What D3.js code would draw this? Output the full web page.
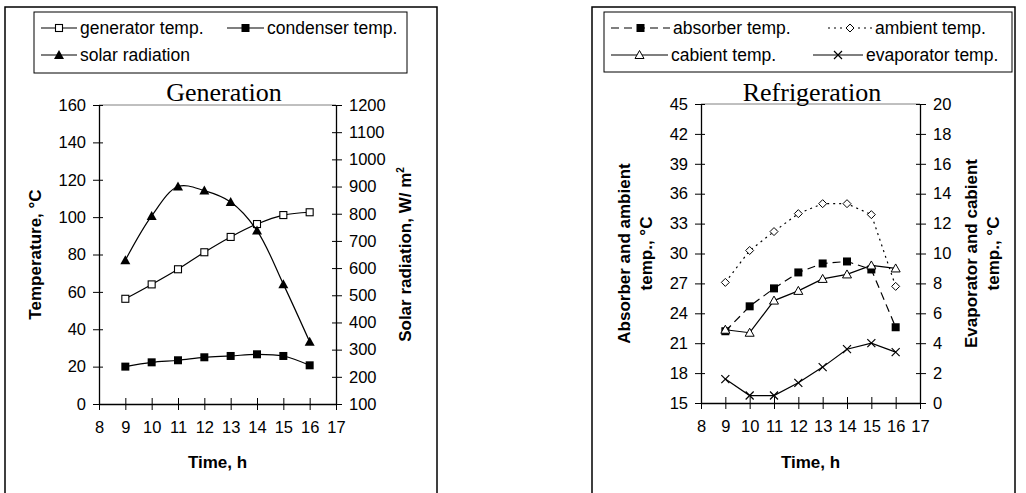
<!DOCTYPE html>
<html>
<head>
<meta charset="utf-8">
<script src="https://cdn.jsdelivr.net/npm/d3@7"></script>
<style>
  body { margin: 0; background: #fff; }
  svg { display: block; }
  text { font-family: "Liberation Sans", Arial, sans-serif; fill: #000; }
</style>
</head>
<body>
<div id="wrapper"></div>
<script>
// data
const hours = [9, 10, 11, 12, 13, 14, 15, 16]
const generatorTemp = [56.3, 64.0, 72.1, 81.2, 89.4, 96.3, 101.1, 102.6]
const condenserTemp = [20.0, 22.3, 23.4, 25.0, 25.7, 26.6, 25.7, 20.7]
const solarRadiation = [629, 792, 900, 885, 843, 738, 541, 329]

const absorberTemp = [22.2, 24.7, 26.5, 28.1, 29.0, 29.2, 28.4, 22.6]
const ambientTemp = [27.1, 30.3, 32.2, 34.0, 35.0, 35.0, 33.9, 26.7]
const cabientTemp = [4.9, 4.7, 6.85, 7.5, 8.3, 8.6, 9.2, 9.0]
const evaporatorTemp = [1.6, 0.5, 0.5, 1.35, 2.4, 3.6, 4.0, 3.4]

const timeTicks = [8, 9, 10, 11, 12, 13, 14, 15, 16, 17]
const tempTicks = [0, 20, 40, 60, 80, 100, 120, 140, 160]
const radiationTicks = [100, 200, 300, 400, 500, 600, 700, 800, 900, 1000, 1100, 1200]
const absAmbTicks = [15, 18, 21, 24, 27, 30, 33, 36, 39, 42, 45]
const evapCabTicks = [0, 2, 4, 6, 8, 10, 12, 14, 16, 18, 20]

const svg = d3.select("#wrapper").append("svg")
    .attr("width", 1026)
    .attr("height", 493)

// marker drawing
function marker(g, type, x, y) {
    if (type == "openSquare") {
        g.append("rect").attr("x", x - 3.5).attr("y", y - 3.5).attr("width", 7).attr("height", 7)
            .attr("fill", "#fff").attr("stroke", "#000").attr("stroke-width", 1.1)
    } else if (type == "square") {
        g.append("rect").attr("x", x - 4).attr("y", y - 4).attr("width", 8).attr("height", 8)
            .attr("fill", "#000")
    } else if (type == "triangle") {
        g.append("path").attr("d", `M${x},${y - 5}L${x + 5},${y + 4}L${x - 5},${y + 4}Z`)
            .attr("fill", "#000")
    } else if (type == "openTriangle") {
        g.append("path").attr("d", `M${x},${y - 4.5}L${x + 4.5},${y + 3.5}L${x - 4.5},${y + 3.5}Z`)
            .attr("fill", "#fff").attr("stroke", "#000").attr("stroke-width", 1)
    } else if (type == "diamond") {
        g.append("path").attr("d", `M${x},${y - 4}L${x + 4},${y}L${x},${y + 4}L${x - 4},${y}Z`)
            .attr("fill", "#fff").attr("stroke", "#000").attr("stroke-width", 1)
    } else if (type == "cross") {
        g.append("path").attr("d", `M${x - 4},${y - 4}L${x + 4},${y + 4}M${x - 4},${y + 4}L${x + 4},${y - 4}`)
            .attr("fill", "none").attr("stroke", "#000").attr("stroke-width", 1.2)
    }
}

function drawPanel(cfg) {
    const g = svg.append("g")

    // outer frame
    g.append("rect")
        .attr("x", cfg.frame[0]).attr("y", cfg.frame[1])
        .attr("width", cfg.frame[2]).attr("height", cfg.frame[3])
        .attr("fill", "none").attr("stroke", "#000").attr("stroke-width", 1.5)

    // legend box
    g.append("rect")
        .attr("x", cfg.legendBox[0]).attr("y", cfg.legendBox[1])
        .attr("width", cfg.legendBox[2]).attr("height", cfg.legendBox[3])
        .attr("fill", "none").attr("stroke", "#000").attr("stroke-width", 1)

    const x = d3.scaleLinear().domain([8, 17]).range([cfg.left, cfg.right])
    const yL = d3.scaleLinear().domain(cfg.leftDomain).range([cfg.bottom, cfg.top])
    const yR = d3.scaleLinear().domain(cfg.rightDomain).range([cfg.bottom, cfg.top])

    // top border of plot area
    g.append("line")
        .attr("x1", cfg.left).attr("x2", cfg.right)
        .attr("y1", cfg.top).attr("y2", cfg.top)
        .attr("stroke", "#808080").attr("stroke-width", 1)

    const fmt = d3.format("d")
    const axL = g.append("g").attr("transform", `translate(${cfg.left},0)`)
        .call(d3.axisLeft(yL).tickValues(cfg.leftTicks).tickFormat(fmt).tickSize(6).tickSizeOuter(0))
    const axR = g.append("g").attr("transform", `translate(${cfg.right},0)`)
        .call(d3.axisRight(yR).tickValues(cfg.rightTicks).tickFormat(fmt).tickSize(6).tickSizeOuter(0))
    const axX = g.append("g").attr("transform", `translate(0,${cfg.bottom})`)
        .call(d3.axisBottom(x).tickValues(timeTicks).tickFormat(fmt).tickSize(6).tickSizeOuter(0))

    // cross tick marks like the original
    axL.selectAll(".tick line").attr("x1", -6).attr("x2", 4)
    axR.selectAll(".tick line").attr("x1", -4).attr("x2", 6)
    axX.selectAll(".tick line").attr("y1", -6).attr("y2", 6)
    ;[axL, axR, axX].forEach(a => {
        a.attr("font-size", 16.5).attr("font-family", "Liberation Sans, Arial")
        a.selectAll("path.domain").attr("stroke", "#000").attr("stroke-width", 1.3)
        a.selectAll(".tick line").attr("stroke", "#000").attr("stroke-width", 1)
    })
    axL.selectAll("text").attr("x", -13)
    axR.selectAll("text").attr("x", 13)
    axX.selectAll("text").attr("y", 17)

    // title
    g.append("text")
        .attr("x", cfg.titleX).attr("y", 101)
        .attr("text-anchor", "middle")
        .style("font-family", "Liberation Serif, Times New Roman, serif")
        .attr("font-size", 26)
        .text(cfg.title)

    // x title
    g.append("text")
        .attr("x", (cfg.left + cfg.right) / 2).attr("y", 468)
        .attr("text-anchor", "middle").attr("font-weight", "bold").attr("font-size", 17)
        .text("Time, h")

    // y titles
    const midY = (cfg.top + cfg.bottom) / 2
    cfg.leftTitle.forEach((t, i) => {
        g.append("text")
            .attr("transform", `translate(${cfg.leftTitleX[i]},${midY}) rotate(-90)`)
            .attr("text-anchor", "middle").attr("dy", "0.35em")
            .attr("font-weight", "bold").attr("font-size", 17)
            .text(t)
    })
    cfg.rightTitle.forEach((t, i) => {
        const tx = g.append("text")
            .attr("transform", `translate(${cfg.rightTitleX[i]},${midY}) rotate(-90)`)
            .attr("text-anchor", "middle").attr("dy", "0.35em")
            .attr("font-weight", "bold").attr("font-size", 17)
        if (t.endsWith("m²")) {
            tx.text(t.slice(0, -1))
            tx.append("tspan").attr("font-size", 10).attr("dy", "-0.7em").text("2")
        } else {
            tx.text(t)
        }
    })

    // series
    cfg.series.forEach(s => {
        const y = s.axis == "left" ? yL : yR
        const pts = hours.map((h, i) => [x(h), y(s.values[i])])
        g.append("path")
            .attr("d", d3.line().curve(s.smooth ? d3.curveCatmullRom.alpha(0.5) : d3.curveLinear)(pts))
            .attr("fill", "none").attr("stroke", "#000").attr("stroke-width", 1.2)
            .attr("stroke-dasharray", s.dash || null)
        const mg = g.append("g")
        pts.forEach(p => marker(mg, s.marker, p[0], p[1]))

        // legend entry
        const L = s.legend
        g.append("line")
            .attr("x1", L.x1).attr("x2", L.x2).attr("y1", L.y).attr("y2", L.y)
            .attr("stroke", "#000").attr("stroke-width", 1.2)
            .attr("stroke-dasharray", s.dash || null)
        marker(g, s.marker, (L.x1 + L.x2) / 2, L.y)
        g.append("text")
            .attr("x", L.x2 + 3).attr("y", L.y).attr("dy", "0.35em")
            .attr("font-size", 17.5)
            .text(s.name)
    })
}

drawPanel({
    frame: [5, 7, 432, 500],
    legendBox: [34, 12, 373, 61],
    left: 99, right: 336, top: 105, bottom: 404,
    leftDomain: [0, 160], rightDomain: [100, 1200],
    leftTicks: tempTicks, rightTicks: radiationTicks,
    title: "Generation", titleX: 224,
    leftTitle: ["Temperature, °C"], leftTitleX: [35],
    rightTitle: ["Solar radiation, W/ m²"], rightTitleX: [405],
    series: [
        { name: "generator temp.", values: generatorTemp, axis: "left", marker: "openSquare", smooth: true,
          legend: { x1: 41, x2: 77, y: 28 } },
        { name: "condenser temp.", values: condenserTemp, axis: "left", marker: "square", smooth: true,
          legend: { x1: 227, x2: 264, y: 28 } },
        { name: "solar radiation", values: solarRadiation, axis: "right", marker: "triangle", smooth: true,
          legend: { x1: 41, x2: 77, y: 55 } }
    ]
})

drawPanel({
    frame: [592, 7, 423, 500],
    legendBox: [604, 12, 408, 60],
    left: 701, right: 920, top: 104, bottom: 403,
    leftDomain: [15, 45], rightDomain: [0, 20],
    leftTicks: absAmbTicks, rightTicks: evapCabTicks,
    title: "Refrigeration", titleX: 812,
    leftTitle: ["Absorber and ambient", "temp., °C"], leftTitleX: [624, 646],
    rightTitle: ["Evaporator and cabient", "temp., °C"], rightTitleX: [971, 993],
    series: [
        { name: "absorber temp.", values: absorberTemp, axis: "left", marker: "square", dash: "8,5",
          legend: { x1: 611, x2: 670, y: 28 } },
        { name: "ambient temp.", values: ambientTemp, axis: "left", marker: "diamond", dash: "2,4",
          legend: { x1: 828, x2: 872, y: 28 } },
        { name: "cabient temp.", values: cabientTemp, axis: "right", marker: "openTriangle",
          legend: { x1: 611, x2: 668, y: 55 } },
        { name: "evaporator temp.", values: evaporatorTemp, axis: "right", marker: "cross",
          legend: { x1: 813, x2: 863, y: 55 } }
    ]
})
</script>
</body>
</html>
